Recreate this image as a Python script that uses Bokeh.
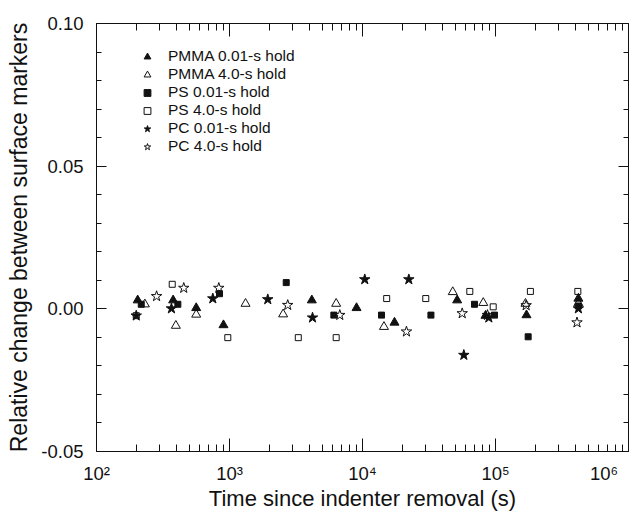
from bokeh.plotting import figure
from bokeh.models import (FixedTicker, LogAxis, LinearAxis, Legend, LegendItem,
                          ColumnDataSource, PrintfTickFormatter)
from bokeh.embed import file_html
from bokeh.resources import INLINE

# ---- data (time in s, relative change) ----
pmma_001_t = [204, 377, 562, 901, 4160, 9020, 17400, 51500, 84100, 171000, 420000]
pmma_001_y = [0.0030, 0.0030, 0.0003, -0.0057, 0.0030, 0.0003, -0.0048, 0.0030, -0.0024, -0.0022, 0.0036]

pmma_40_t = [231, 395, 562, 1320, 2530, 6340, 14500, 47700, 80900, 168000, 420000]
pmma_40_y = [0.0016, -0.0059, -0.0020, 0.0018, -0.0019, 0.0018, -0.0063, 0.0059, 0.0021, 0.0018, 0.0020]

ps_001_t = [217, 409, 841, 2670, 6090, 13900, 32700, 69500, 98300, 176000, 420000]
ps_001_y = [0.0016, 0.0016, 0.0053, 0.0092, -0.0022, -0.0022, -0.0022, 0.0016, -0.0022, -0.0098, 0.0010]

ps_40_t = [199, 371, 971, 3290, 6340, 15200, 29900, 64100, 96100, 183000, 416000]
ps_40_y = [-0.0024, 0.0086, -0.0101, -0.0101, -0.0101, 0.0036, 0.0036, 0.0061, 0.0007, 0.0061, 0.0061]

pc_001_t = [199, 366, 749, 1940, 4210, 10400, 22300, 57800, 89100, 420000]
pc_001_y = [-0.0024, 0.0001, 0.0036, 0.0033, -0.0031, 0.0103, 0.0103, -0.0162, -0.0031, 0.0001]

pc_40_t = [283, 453, 831, 2740, 6750, 21400, 56200, 87000, 170000, 410000]
pc_40_y = [0.0044, 0.0073, 0.0073, 0.0013, -0.0022, -0.0080, -0.0016, -0.0022, 0.0012, -0.0048]

series_labels = ["PMMA 0.01-s hold", "PMMA 4.0-s hold", "PS 0.01-s hold",
                 "PS 4.0-s hold", "PC 0.01-s hold", "PC 4.0-s hold"]

x_major = [100, 1000, 10000, 100000, 1000000]
x_major_labels = ["10\u00b2", "10\u00b3", "10\u2074", "10\u2075", "10\u2076\u00a0\u00a0\u00a0"]
y_major = [-0.05, 0.0, 0.05, 0.10]

FONT = "Liberation Sans"
INK = "#111111"

x_minor = [m * 10 ** k for k in range(2, 6) for m in range(2, 10)]
y_minor = [round(-0.05 + 0.01 * i, 2) for i in range(16)]

p = figure(width=633, height=513, x_axis_type="log",
           x_range=(1e2, 1e6), y_range=(-0.05, 0.10),
           output_backend="svg", toolbar_location=None,
           min_border_left=96, min_border_right=5,
           min_border_top=23, min_border_bottom=60,
           background_fill_color="white", border_fill_color="white")
p.grid.visible = False
p.outline_line_color = None


def style_axis(ax, tick_major, tick_minor, labels=True):
    ax.axis_line_color = INK
    ax.major_tick_line_color = INK
    ax.minor_tick_line_color = INK
    ax.major_tick_in = tick_major
    ax.major_tick_out = 0
    ax.minor_tick_in = tick_minor
    ax.minor_tick_out = 0
    if labels:
        ax.major_label_text_font = FONT
        ax.major_label_text_font_size = "18.5px"
        ax.major_label_text_color = INK
        ax.axis_label_text_font = FONT
        ax.axis_label_text_font_style = "normal"
        ax.axis_label_text_color = INK
    else:
        ax.major_label_text_font_size = "1px"
        ax.major_label_text_alpha = 0
        ax.major_label_standoff = 0


xa = p.xaxis[0]
xa.ticker = FixedTicker(ticks=x_major, minor_ticks=x_minor)
xa.major_label_overrides = {v: s for v, s in zip(x_major, x_major_labels)}
xa.axis_label = "Time since indenter removal (s)"
style_axis(xa, 13, 7)
xa.axis_label_text_font_size = "22px"
xa.major_label_standoff = 11
xa.axis_label_standoff = -1

ya = p.yaxis[0]
ya.ticker = FixedTicker(ticks=y_major, minor_ticks=y_minor)
ya.formatter = PrintfTickFormatter(format="%.2f")
ya.axis_label = "Relative change between surface markers"
style_axis(ya, 10, 5)
ya.axis_label_text_font_size = "23px"
ya.major_label_standoff = 13
ya.axis_label_standoff = 6

top = LogAxis(ticker=FixedTicker(ticks=x_major, minor_ticks=x_minor))
style_axis(top, 13, 7, labels=False)
p.add_layout(top, "above")
right = LinearAxis(ticker=FixedTicker(ticks=y_major, minor_ticks=y_minor))
style_axis(right, 10, 5, labels=False)
p.add_layout(right, "right")

renderers = []
specs = [
    (pmma_001_t, pmma_001_y, "triangle", 9, INK),
    (pmma_40_t, pmma_40_y, "triangle", 9, None),
    (ps_001_t, ps_001_y, "square", 6, INK),
    (ps_40_t, ps_40_y, "square", 6, None),
    (pc_001_t, pc_001_y, "star", 11, INK),
    (pc_40_t, pc_40_y, "star", 11, None),
]
for t, y, marker, size, fill in specs:
    src = ColumnDataSource(dict(t=t, y=y))
    r = p.scatter("t", "y", source=src, marker=marker, size=size,
                  line_color=INK, line_width=1, fill_color=fill)
    renderers.append(r)

legend = Legend(items=[LegendItem(label=lab, renderers=[r])
                       for lab, r in zip(series_labels, renderers)],
                location=(41, 296), orientation="vertical",
                padding=0, margin=0, spacing=0,
                glyph_width=20, glyph_height=17, label_height=17,
                label_standoff=11,
                label_text_font=FONT, label_text_font_size="15.5px",
                label_text_color=INK,
                border_line_color=None, background_fill_alpha=0)
p.add_layout(legend)

open("out.html", "w").write(file_html(p, INLINE))
